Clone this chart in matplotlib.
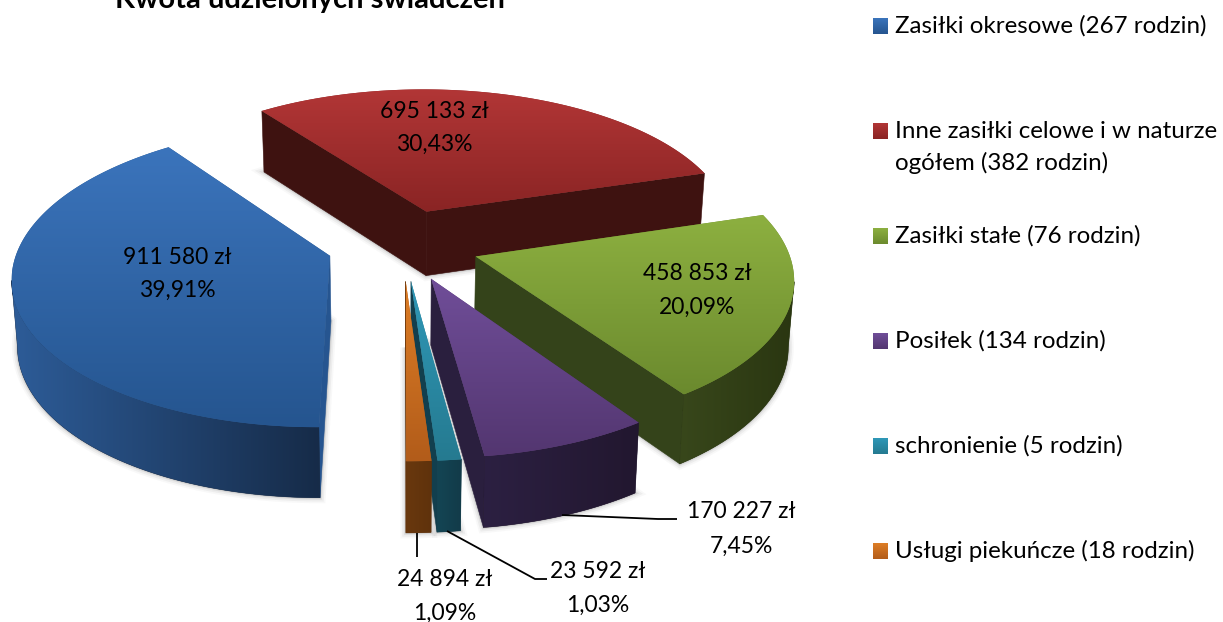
import numpy as np
import matplotlib
matplotlib.use("Agg")
import matplotlib.pyplot as plt
from matplotlib.colors import to_rgb, LinearSegmentedColormap
from matplotlib.patches import Polygon

plt.rcParams['font.family'] = ['Lato', 'DejaVu Sans']

# ---- data ----
title = "Kwota udzielonych świadczeń"
amounts = [911580, 695133, 458853, 170227, 23592, 24894]
legend_labels = ["Zasiłki okresowe (267 rodzin)",
                 "Inne zasiłki celowe i w naturze\nogółem (382 rodzin)",
                 "Zasiłki stałe (76 rodzin)",
                 "Posiłek (134 rodzin)",
                 "schronienie (5 rodzin)",
                 "Usługi piekuńcze (18 rodzin)"]

# ---- style ----
top_hi = ['#3B74BC', '#B23636', '#8DB040', '#704E99', '#2F98B8', '#DE7E26']
top_lo = ['#25558F', '#8A2424', '#6B8A2E', '#533670', '#257A90', '#B25C1A']
wall_l = ['#2D5C98', '#451513', '#38471B', '#2C2042', '#144554', '#69380E']
wall_r = ['#162B48', '#360E0D', '#2A3611', '#22172F', '#123B49', '#5F320C']
face_c = ['#265590', '#3E1210', '#34431A', '#2A1F3E', '#123F4E', '#69380E']
label_pos = [(177, 257, 290), (434, 112, 144), (697, 274, 307),
             (741, 512, 546), (598, 572, 605), (445, 580, 613)]
leaders = [None, None, None,
           [(562, 515), (658, 519), (677, 519)],
           [(447, 531), (535, 579), (547, 579)],
           [(417, 533), (417, 557)]]
legend_y = [26, 131, 236, 341, 446, 551]

CX, CY, A, B, P, E = 403, 244.5, 311, 146, 0.13, 0.245
START = 180.0
ROT_ORDER = [1, 0, 2, 3, 4, 5]

W, H = 1223, 622
fig = plt.figure(figsize=(W / 100, H / 100), dpi=100)
ax = fig.add_axes([0, 0, 1, 1])
ax.set_axis_off()


def proj(X, Y):
    s = 1 / (1 - P * Y)
    return CX + A * s * X, CY + B * s * Y


def lower(x, y):
    return CX + (x - CX) * 0.985, y + 65 + 0.03 * (y - CY)


def grad(c1, c2, extent, clip=None, z=3, horizontal=False):
    cmap = LinearSegmentedColormap.from_list('g', [c1, c2])
    arr = np.linspace(0, 1, 256)
    arr = arr[None, :] if horizontal else arr[:, None]
    im = ax.imshow(arr, cmap=cmap, extent=extent, aspect='auto',
                   interpolation='bilinear', zorder=z)
    if clip is not None:
        im.set_clip_path(clip)
    return im


total = sum(amounts)
fracs = np.array(amounts) / total
edges = START + np.concatenate([[0], np.cumsum(fracs) * 360])

for z, i in enumerate(ROT_ORDER):
    base = 10 * (z + 1)
    t1, t2 = edges[i], edges[i + 1]
    mid = np.radians((t1 + t2) / 2)
    ox, oy = E * np.sin(mid), -E * np.cos(mid)
    th = np.radians(np.linspace(t1, t2, max(int(t2 - t1) * 2, 6)))
    rim = np.array([proj(ox + np.sin(t), oy - np.cos(t)) for t in th])
    apex = np.array(proj(ox, oy))
    rim_b = np.array([lower(*p) for p in rim])
    apex_b = np.array(lower(*apex))

    top_pts = np.vstack([apex, rim])
    bot_pts = np.vstack([apex_b, rim_b])

    # soft shadow following the lower outline
    for lw, al in [(8, .04), (5.5, .07), (3, .10), (1.5, .15)]:
        ax.add_patch(Polygon(bot_pts, closed=True, fc='#606060', ec='#606060',
                             lw=lw, alpha=al, zorder=base))

    # cut faces
    for pt, pb, sign in [(rim[0], rim_b[0], -1), (rim[-1], rim_b[-1], 1)]:
        a = pt - apex
        b = pb - pt
        if (a[0] * b[1] - a[1] * b[0]) * sign > 0:
            ax.add_patch(Polygon([apex, pt, pb, apex_b], closed=True,
                                 fc=face_c[i], ec=face_c[i], lw=.4, zorder=base + 1))

    # outer wall with a horizontal gradient
    vis = [k for k in range(len(rim) - 1) if rim[k + 1][0] < rim[k][0]]
    if vis:
        a0, a1 = vis[0], vis[-1] + 2
        wall_pts = np.vstack([rim[a0:a1], rim_b[a0:a1][::-1]])
        wall = Polygon(wall_pts, closed=True, fc=wall_r[i], ec=wall_r[i], lw=.4,
                       zorder=base + 2, transform=ax.transData)
        ax.add_patch(wall)
        grad(wall_l[i], wall_r[i],
             (wall_pts[:, 0].min(), wall_pts[:, 0].max(),
              wall_pts[:, 1].max(), wall_pts[:, 1].min()),
             clip=wall, z=base + 2.5, horizontal=True)

    # top surface with a vertical gradient
    poly = Polygon(top_pts, closed=True, fc=top_lo[i], ec='none', zorder=base + 3,
                   transform=ax.transData)
    ax.add_patch(poly)
    y0, y1 = top_pts[:, 1].min(), top_pts[:, 1].max()
    x0, x1 = top_pts[:, 0].min(), top_pts[:, 0].max()
    grad(top_hi[i], top_lo[i], (x0, x1, y1, y0), clip=poly, z=base + 4)

# leader lines
for pts in leaders:
    if pts:
        xy = np.array(pts)
        ax.plot(xy[:, 0], xy[:, 1], color='black', lw=1.3, zorder=90,
                solid_capstyle='butt')

# data labels
FS = 16.5
LEG_FS = 17.4
for v, f, (x, y1, y2) in zip(amounts, fracs, label_pos):
    amount = f"{v:,}".replace(",", " ") + " zł"
    pct = f"{f * 100:.2f}".replace(".", ",") + "%"
    ax.text(x, y1, amount, ha='center', va='center', fontsize=FS, color='black', zorder=100)
    ax.text(x, y2, pct, ha='center', va='center', fontsize=FS, color='black', zorder=100)

# title, cut by the top of the picture as in the source
ax.text(115, 8, title, ha='left', va='baseline', fontsize=21, fontweight='bold',
        color='black', zorder=100)

# legend
for i, (lab, yy) in enumerate(zip(legend_labels, legend_y)):
    grad(top_hi[i], top_lo[i], (873, 888, yy + 8, yy - 8), z=100)
    for j, line in enumerate(lab.split("\n")):
        ax.text(895, yy + j * 32, line, ha='left', va='center', fontsize=LEG_FS,
                color='black', zorder=100)

ax.set_xlim(0, W)
ax.set_ylim(H, 0)
fig.savefig("out.png", dpi=100, facecolor='white')
